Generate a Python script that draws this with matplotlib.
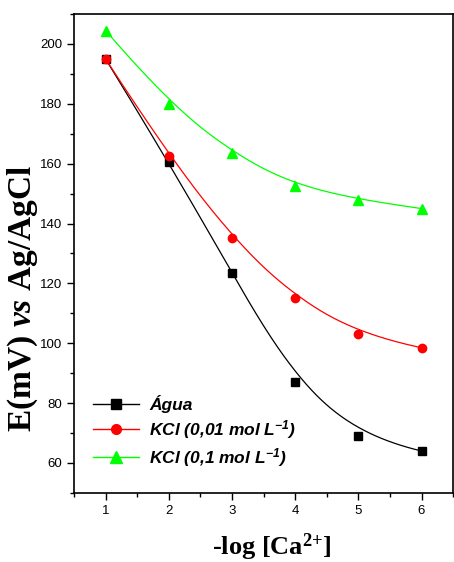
import numpy as np
import matplotlib.pyplot as plt
from matplotlib.ticker import MultipleLocator

plt.rcParams['font.family'] = ['Liberation Sans', 'DejaVu Sans']
plt.rcParams['mathtext.fontset'] = 'custom'
plt.rcParams['mathtext.rm'] = 'Liberation Serif:bold'
plt.rcParams['mathtext.it'] = 'Liberation Serif:bold:italic'
plt.rcParams['mathtext.sf'] = 'Liberation Sans:bold:italic'

## DATA
x = [1, 2, 3, 4, 5, 6]
agua = [195.0, 160.5, 123.5, 87.0, 69.0, 64.0]
kcl_001 = [195.0, 162.5, 135.0, 115.0, 103.0, 98.5]
kcl_01 = [204.5, 180.0, 163.5, 152.5, 148.0, 145.0]
labels = [r'Água', r'KCl (0,01 mol L$\mathsf{^{-1}}$)', r'KCl (0,1 mol L$\mathsf{^{-1}}$)']


def bspline(px, py, n=300):
    # clamped uniform cubic B-spline with the data as control points
    px = np.asarray(px, float)
    py = np.asarray(py, float)
    m = len(px)
    k = 3
    knots = np.r_[[0] * k, np.arange(m - k + 1), [m - k] * k].astype(float)
    ts = np.linspace(0, m - k, n)
    out = []
    for t in ts:
        i = min(np.searchsorted(knots, t, side='right') - 1, m - 1)
        d = [np.array([px[j], py[j]]) for j in range(i - k, i + 1)]
        for r in range(1, k + 1):
            for j in range(k, r - 1, -1):
                jj = j + i - k
                den = knots[jj + k + 1 - r] - knots[jj]
                a = 0 if den == 0 else (t - knots[jj]) / den
                d[j] = (1 - a) * d[j - 1] + a * d[j]
        out.append(d[k])
    out = np.array(out)
    return out[:, 0], out[:, 1]


fig = plt.figure(figsize=(4.54, 5.62), dpi=100)
ax = fig.add_axes([0.163, 0.123, 0.835, 0.852])

series = [(agua, 'black', 's', 6), (kcl_001, 'red', 'o', 6), (kcl_01, '#00ff00', '^', 7)]
for (y, c, m, ms), lab in zip(series, labels):
    cx, cy = bspline(x, y)
    ax.plot(cx, cy, color=c, lw=0.9)
    ax.plot(x, y, ls='none', marker=m, color=c, ms=ms)
    ax.plot([], [], color=c, marker=m, ms=ms + 1, lw=1, label=lab)

ax.set_xlim(0.5, 6.5)
ax.set_ylim(50, 210)
ax.xaxis.set_major_locator(MultipleLocator(1))
ax.xaxis.set_minor_locator(MultipleLocator(0.5))
ax.set_yticks(range(60, 201, 20))
ax.yaxis.set_minor_locator(MultipleLocator(10))
ax.tick_params(which='major', direction='out', length=5, width=1, labelsize=9.5)
ax.tick_params(which='minor', direction='out', length=3, width=1)
for s in ax.spines.values():
    s.set_linewidth(1.2)

ax.set_xlabel(r'-log [Ca$^{2{+}}$]', fontsize=19, fontfamily='Liberation Serif',
              fontweight='bold')
ax.xaxis.set_label_coords(0.523, -0.08)
ax.set_ylabel(r'$\mathrm{E(mV)}\ \mathit{vs}\ \mathrm{Ag/AgCl}$', fontsize=24)
ax.yaxis.set_label_coords(-0.09, 0.405)

leg = ax.legend(loc='lower left', bbox_to_anchor=(0.01, 0.018), frameon=False,
                prop={'style': 'italic', 'weight': 'bold', 'size': 12.5},
                handlelength=2.6, handletextpad=0.6, labelspacing=0.28)

fig.savefig('out.png', dpi=100)
